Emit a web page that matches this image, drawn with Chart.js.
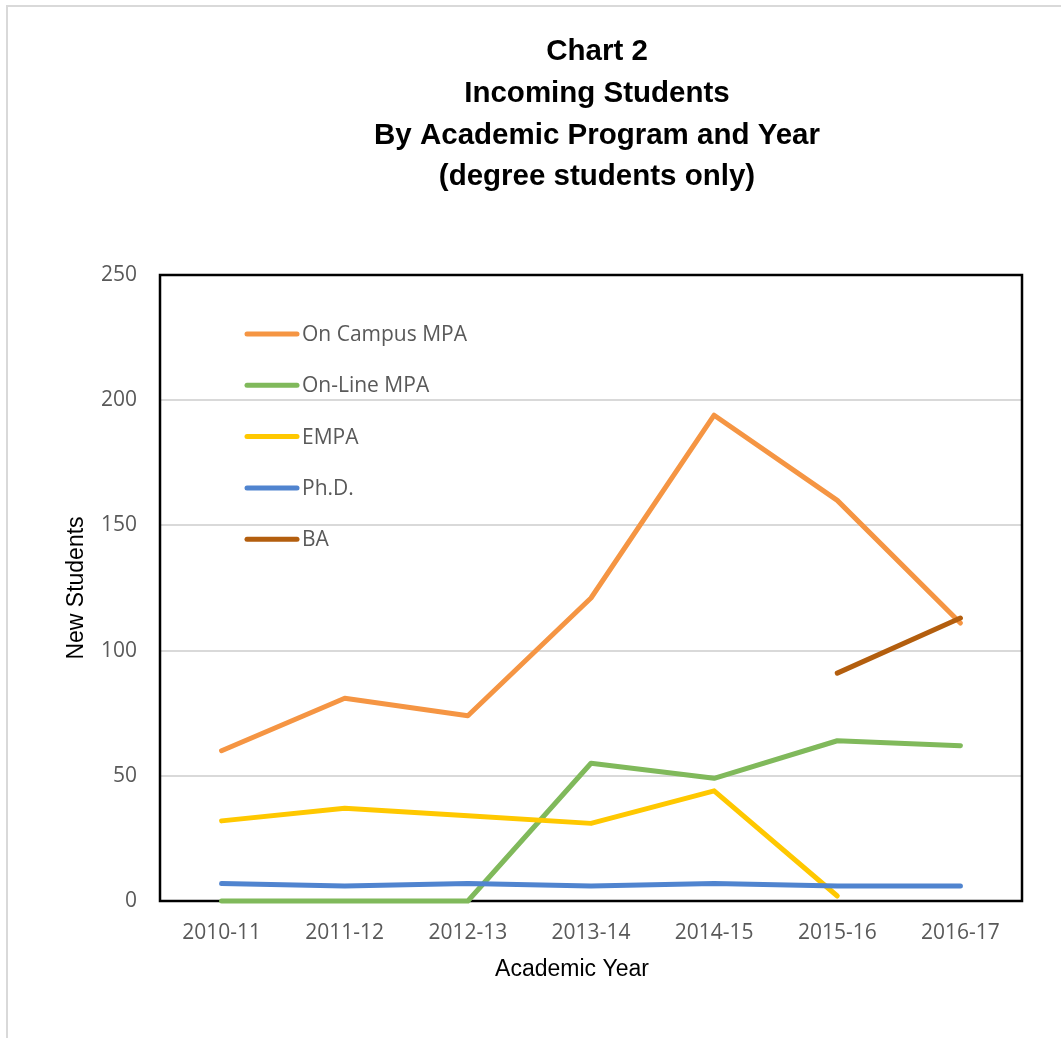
<!DOCTYPE html>
<html>
<head>
<meta charset="utf-8">
<script src="https://cdn.jsdelivr.net/npm/chart.js@4/dist/chart.umd.min.js"></script>
<style>
  html, body { margin: 0; padding: 0; background: #fff; }
  canvas { display: block; }
</style>
</head>
<body>
<canvas id="c" width="1061" height="1038"></canvas>
<script>
const categories = ['2010-11', '2011-12', '2012-13', '2013-14', '2014-15', '2015-16', '2016-17'];
const onCampusMPA = [60, 81, 74, 121, 194, 160, 111];
const onLineMPA   = [0, 0, 0, 55, 49, 64, 62];
const empa        = [32, 37, 34, 31, 44, 2, null];
const phd         = [7, 6, 7, 6, 7, 6, 6];
const ba          = [null, null, null, null, null, 91, 113];
const seriesNames = ['On Campus MPA', 'On-Line MPA', 'EMPA', 'Ph.D.', 'BA'];
const seriesColors = ['#F59543', '#80B95B', '#FFC800', '#5084CF', '#B35E0E'];
const titleLines = ['Chart 2', 'Incoming Students', 'By Academic Program and Year', '(degree students only)'];
const xAxisTitle = 'Academic Year';
const yAxisTitle = 'New Students';
const yTicks = [0, 50, 100, 150, 200, 250];

const seriesData = [onCampusMPA, onLineMPA, empa, phd, ba];

const datasets = seriesData.map((d, i) => ({
  label: seriesNames[i],
  data: d,
  borderColor: seriesColors[i],
  backgroundColor: seriesColors[i],
  borderWidth: 5,
  pointRadius: 0,
  pointHoverRadius: 0,
  tension: 0,
  fill: false,
  borderCapStyle: 'round',
  borderJoinStyle: 'round',
  clip: false,
  order: seriesData.length - i
}));

const framePlugin = {
  id: 'frame',
  beforeDraw(chart) {
    const ctx = chart.ctx;
    ctx.save();
    ctx.strokeStyle = '#d9d9d9';
    ctx.lineWidth = 2;
    ctx.beginPath();
    ctx.moveTo(7, 1038);
    ctx.lineTo(7, 6);
    ctx.lineTo(1061, 6);
    ctx.stroke();
    ctx.restore();
  },
  beforeDatasetsDraw(chart) {
    const {ctx, chartArea: a} = chart;
    ctx.save();
    ctx.strokeStyle = '#000';
    ctx.lineWidth = 2.5;
    ctx.strokeRect(a.left, a.top, a.right - a.left, a.bottom - a.top);
    ctx.restore();
  },
  afterDraw(chart) {
    const {ctx, chartArea: a} = chart;
    ctx.save();
    // Title
    ctx.fillStyle = '#000';
    ctx.font = 'bold 29.5px "Liberation Sans", Arial, sans-serif';
    ctx.textAlign = 'center';
    ctx.textBaseline = 'middle';
    const cx = (a.left + a.right) / 2 + 6;
    titleLines.forEach((t, i) => ctx.fillText(t, cx, 52 + i * 41.7));
    // X axis title
    ctx.font = '23px "Liberation Sans", Arial, sans-serif';
    ctx.fillText(xAxisTitle, (a.left + a.right) / 2 - 19, 970);
    // Legend
    ctx.font = '21px "Open Sans", sans-serif';
    ctx.textAlign = 'left';
    chart.data.datasets.forEach((ds, i) => {
      const y = a.top + 59 + i * 51.3;
      ctx.strokeStyle = ds.borderColor;
      ctx.lineWidth = 5;
      ctx.lineCap = 'round';
      ctx.beginPath();
      ctx.moveTo(a.left + 87, y);
      ctx.lineTo(a.left + 137, y);
      ctx.stroke();
      ctx.fillStyle = '#595959';
      ctx.fillText(ds.label, a.left + 142, y + 1);
    });
    ctx.restore();
  }
};

new Chart(document.getElementById('c'), {
  type: 'line',
  data: { labels: categories, datasets },
  plugins: [framePlugin],
  options: {
    responsive: false,
    animation: false,
    devicePixelRatio: 1,
    layout: { padding: { top: 275, right: 39, left: 0, bottom: 0 } },
    plugins: {
      legend: { display: false },
      title: { display: false },
      tooltip: { enabled: false }
    },
    scales: {
      x: {
        type: 'category',
        offset: true,
        grid: { display: false, drawTicks: false },
        border: { display: false },
        ticks: {
          color: '#595959',
          font: { family: '"Open Sans", sans-serif', size: 21 },
          padding: 19,
          maxRotation: 0,
          autoSkip: false
        },
        title: { display: false },
        afterFit(s) { s.height = 137; }
      },
      y: {
        min: 0,
        max: 250,
        afterBuildTicks(s) { s.ticks = yTicks.map(v => ({ value: v })); },
        grid: { color: '#d9d9d9', lineWidth: 2, drawTicks: false },
        border: { display: false },
        ticks: {
          color: '#595959',
          font: { family: '"Open Sans", sans-serif', size: 21 },
          padding: 23
        },
        title: {
          display: true,
          text: yAxisTitle,
          color: '#000',
          font: { family: '"Liberation Sans", Arial, sans-serif', size: 23 },
          padding: { top: 63, bottom: 0 }
        },
        afterFit(s) { s.width = 160; }
      }
    }
  }
});
</script>
</body>
</html>
